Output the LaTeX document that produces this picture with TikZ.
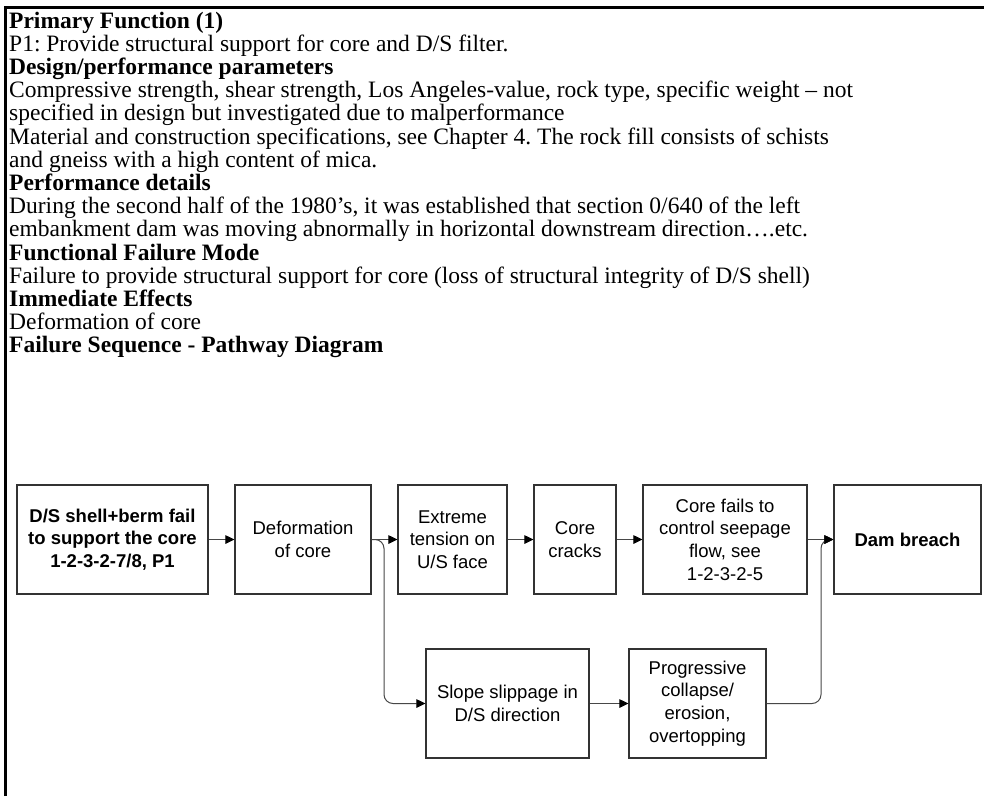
\documentclass[tikz,border=0pt]{standalone}
\usepackage{fontspec}
\setmainfont{Liberation Serif}
\newfontfamily\boxfont{Liberation Sans}
\usetikzlibrary{arrows.meta}
\frenchspacing

\tikzset{
  bodyline/.style={anchor=base west, inner sep=0pt,
    font=\fontsize{23.5}{23.2}\selectfont},
  headline/.style={bodyline, font=\fontsize{23.5}{23.2}\selectfont\bfseries},
  stepbox/.style={draw=black!80, line width=1.1pt, fill=white,
    minimum height=109pt, inner sep=2pt, align=center,
    font=\boxfont\fontsize{18.5}{22.7}\selectfont},
  link/.style={draw=black!72, line width=1pt,
    -{Triangle[length=9pt,width=8.5pt,fill=black,color=black]}},
}

\begin{document}
\begin{tikzpicture}[x=1pt,y=-1pt]
  \useasboundingbox (0,0) rectangle (984,796);
  \fill[white] (0,0) rectangle (984,796);

  % frame: top and left rules
  \draw[line width=3pt, line join=miter] (5.5,796) -- (5.5,7.5) -- (984,7.5);

  % description text
  \node[headline] (l1)  at (9, 28.0) {Primary Function (1)};
  \node[bodyline] (l2)  at (9, 51.2) {P1: Provide structural support for core and D/S filter.};
  \node[headline] (l3)  at (9, 74.4) {Design/performance parameters};
  \node[bodyline] (l4)  at (9, 97.6) {Compressive strength, shear strength, Los Angeles-value, rock type, specific weight – not};
  \node[bodyline] (l5)  at (9,120.8) {specified in design but investigated due to malperformance};
  \node[bodyline] (l6)  at (9,144.0) {Material and construction specifications, see Chapter 4. The rock fill consists of schists};
  \node[bodyline] (l7)  at (9,167.2) {and gneiss with a high content of mica.};
  \node[headline] (l8)  at (9,190.4) {Performance details};
  \node[bodyline] (l9)  at (9,213.6) {During the second half of the 1980’s, it was established that section 0/640 of the left};
  \node[bodyline] (l10) at (9,236.8) {embankment dam was moving abnormally in horizontal downstream direction….etc.};
  \node[headline] (l11) at (9,260.0) {Functional Failure Mode};
  \node[bodyline] (l12) at (9,283.2) {Failure to provide structural support for core (loss of structural integrity of D/S shell)};
  \node[headline] (l13) at (9,306.4) {Immediate Effects};
  \node[bodyline] (l14) at (9,329.6) {Deformation of core};
  \node[headline] (l15) at (9,352.8) {Failure Sequence - Pathway Diagram};

  % pathway boxes, upper row
  \node[stepbox, minimum width=191pt, font=\boxfont\fontsize{18.5}{22.7}\selectfont\bfseries]
       (b1) at (112.5,539.5) {D/S shell+berm fail\\to support the core\\1-2-3-2-7/8, P1};
  \node[stepbox, minimum width=136pt] (b2) at (303,539.5) {Deformation\\of core};
  \node[stepbox, minimum width=109pt] (b3) at (452.5,539.5) {Extreme\\tension on\\U/S face};
  \node[stepbox, minimum width=82pt]  (b4) at (575,539.5) {Core\\cracks};
  \node[stepbox, minimum width=164pt] (b5) at (725,539.5) {Core fails to\\control seepage\\flow, see\\1-2-3-2-5};
  \node[stepbox, minimum width=147pt, font=\boxfont\fontsize{18.5}{22.7}\selectfont\bfseries]
       (b6) at (907.5,539.5) {Dam breach};

  % pathway boxes, lower row
  \node[stepbox, minimum width=163pt] (b7) at (507.5,703.5) {Slope slippage in\\D/S direction};
  \node[stepbox, minimum width=137pt] (b8) at (697.5,703.5) {Progressive\\collapse/\\erosion,\\overtopping};

  % branch points
  \coordinate (j1) at (384,539.5);
  \coordinate (j2) at (821,539.5);

  % connectors
  \draw[link] (b1) -- (b2);
  \draw[link] (b2) -- (b3);
  \draw[link] (b3) -- (b4);
  \draw[link] (b4) -- (b5);
  \draw[link] (b5) -- (b6);
  \draw[link, rounded corners=9pt] (b2.east) -- (j1) |- (b7.west);
  \draw[link] (b7) -- (b8);
  \draw[link, rounded corners=9pt] (b8.east) -| (j2) -- (b6.west);
\end{tikzpicture}
\end{document}
